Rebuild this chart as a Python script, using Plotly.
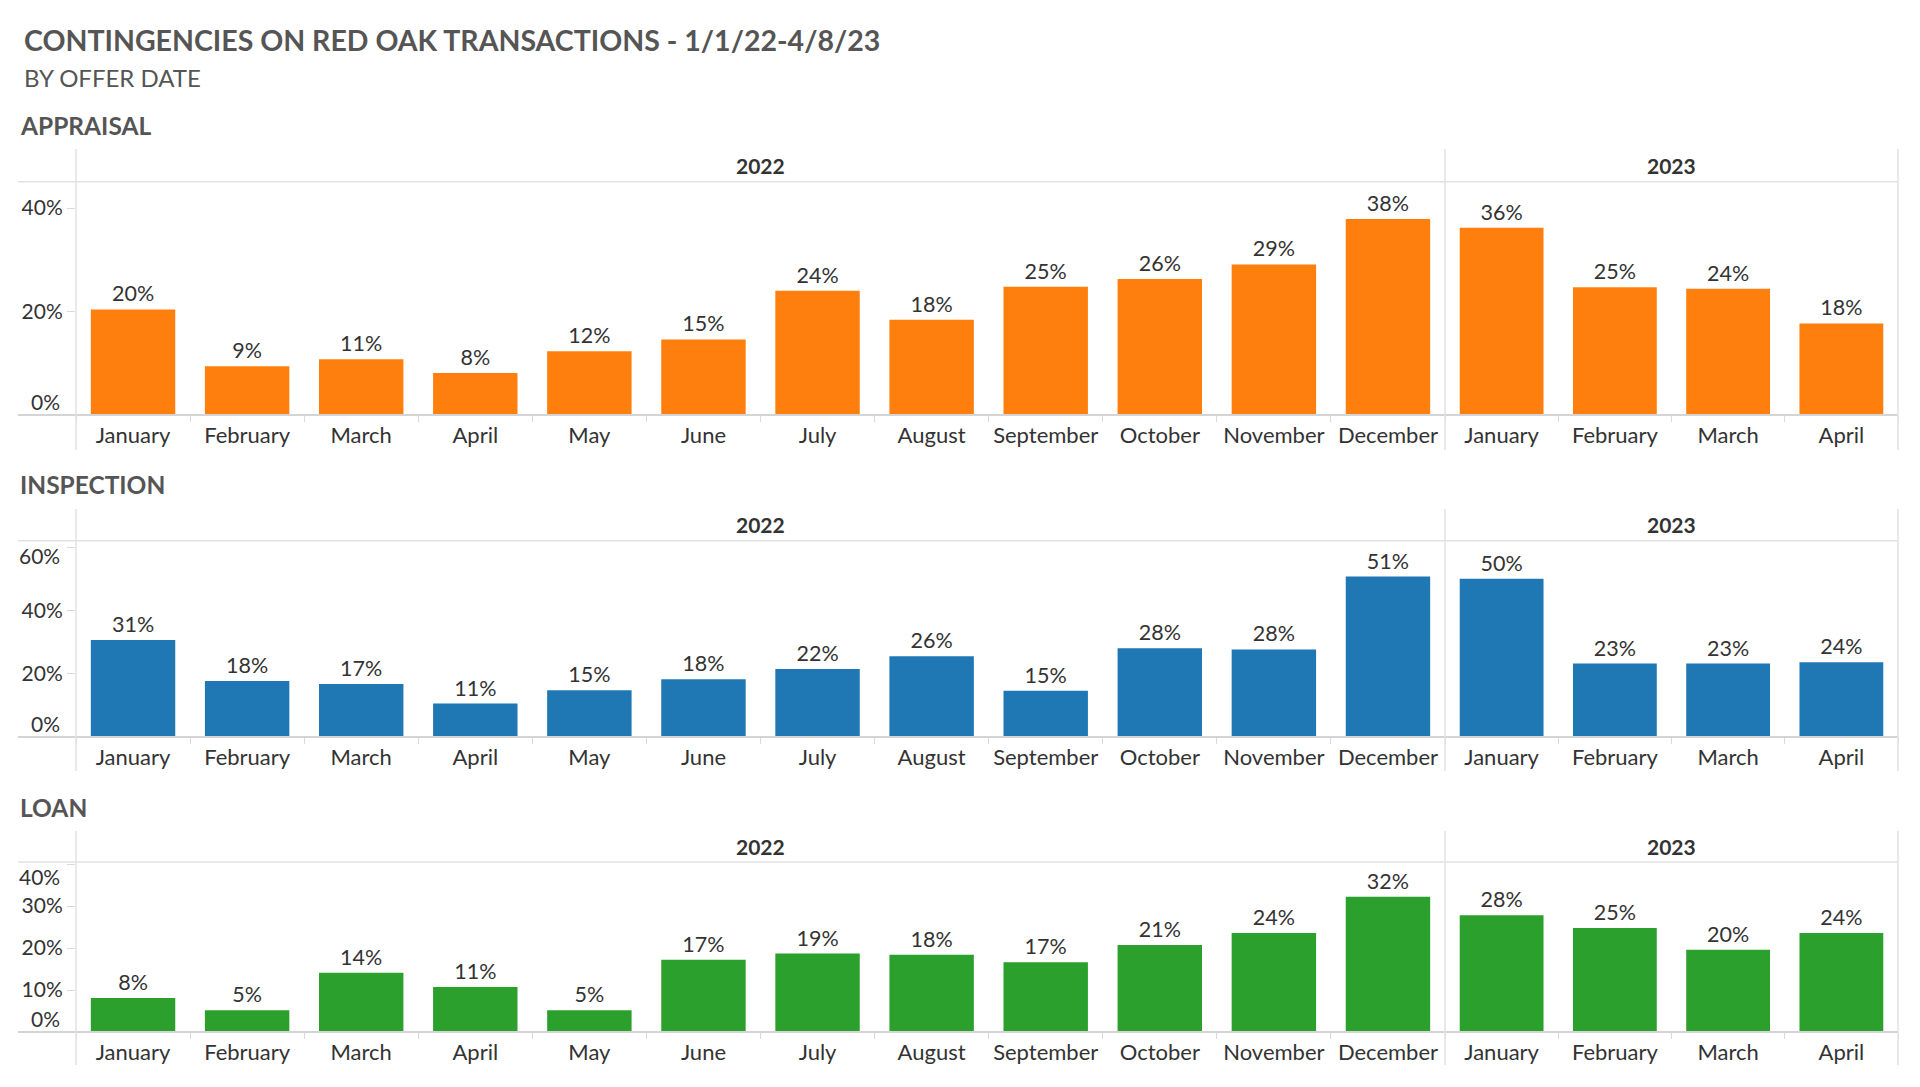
import plotly.graph_objects as go

# ---------------- data ----------------
months_2022 = ["January", "February", "March", "April", "May", "June", "July",
               "August", "September", "October", "November", "December"]
months_2023 = ["January", "February", "March", "April"]

appraisal_2022 = [20.4, 9.4, 10.8, 8.1, 12.3, 14.6, 24.0, 18.4, 24.8, 26.3, 29.1, 37.9]
appraisal_2023 = [36.2, 24.7, 24.4, 17.7]

inspection_2022 = [30.8, 17.8, 16.8, 10.6, 14.8, 18.3, 21.6, 25.6, 14.7, 28.2, 27.8, 50.9]
inspection_2023 = [50.2, 23.3, 23.3, 23.7]

loan_2022 = [8.1, 5.2, 14.1, 10.7, 5.2, 17.2, 18.7, 18.4, 16.6, 20.7, 23.6, 32.2]
loan_2023 = [27.8, 24.8, 19.6, 23.6]

years = ["2022", "2023"]
section_names = ["APPRAISAL", "INSPECTION", "LOAN"]
title_text = "CONTINGENCIES ON RED OAK TRANSACTIONS - 1/1/22-4/8/23"
subtitle_text = "BY OFFER DATE"

# ---------------- layout helpers ----------------
W, H = 1920, 1087
FONT = "Lato"


def px_x(x):
    return x / W


def px_y(y):
    return 1 - y / H


X_LEFT, X_DIV, X_RIGHT, X_LINE_START = 76, 1445, 1898, 18
YLABEL_RIGHT = 61
LABEL_HALF = 14.5

rows = [
    dict(name=section_names[0], v22=appraisal_2022, v23=appraisal_2023, color="#ff7f0e",
         title_y=125, head_top=149, head_line=181.7, axis=415, bottom=450,
         yrange=[0, 45.1], dtick=20),
    dict(name=section_names[1], v22=inspection_2022, v23=inspection_2023, color="#1f77b4",
         title_y=485, head_top=509, head_line=540.7, axis=737, bottom=771,
         yrange=[0, 62.3], dtick=20),
    dict(name=section_names[2], v22=loan_2022, v23=loan_2023, color="#2ca02c",
         title_y=807, head_top=831, head_line=862, axis=1032, bottom=1065,
         yrange=[0, 40.5], dtick=10),
]

fig = go.Figure()
layout_axes = {}
shapes = []
annotations = []

LINE_COL = "#e2e2e2"
AXIS_COL = "#d4d4d4"
TEXT_COL = "#333333"
TICK_FONT = dict(family=FONT, size=21, color=TEXT_COL)

for r, row in enumerate(rows):
    # y ticks derived from the axis range
    tickvals = list(range(0, int(row["yrange"][1]) + 1, row["dtick"]))
    px_per_unit = (row["axis"] - row["head_line"]) / (row["yrange"][1] - row["yrange"][0])
    top_dist = (row["yrange"][1] - tickvals[-1]) * px_per_unit
    top_fits = top_dist > 11
    ticktext = []
    for k, v in enumerate(tickvals):
        if k == 0 or (k == len(tickvals) - 1 and not top_fits):
            ticktext.append("")
        else:
            ticktext.append(f"{v}%")

    parts = [(months_2022, row["v22"], [px_x(X_LEFT), px_x(X_DIV)]),
             (months_2023, row["v23"], [px_x(X_DIV), px_x(X_RIGHT)])]
    for c, (months, vals, xdom) in enumerate(parts):
        i = r * 2 + c + 1
        fig.add_trace(go.Bar(
            x=months, y=vals,
            xaxis=f"x{i}", yaxis=f"y{i}",
            marker=dict(color=row["color"], line=dict(width=0)),
            texttemplate="%{y:.0f}%", textposition="outside",
            textfont=dict(family=FONT, size=21.5, color=TEXT_COL),
            constraintext="none", cliponaxis=False,
            hoverinfo="skip", showlegend=False,
        ))
        layout_axes[f"xaxis{i}"] = dict(
            domain=xdom, anchor=f"y{i}", type="category",
            categoryorder="array", categoryarray=months,
            ticks="outside", tickson="boundaries", ticklen=6, tickcolor="#d9d9d9",
            ticklabelstandoff=5,
            showgrid=False, showline=False, zeroline=False,
            tickangle=0, automargin=False,
            tickfont=dict(family=FONT, size=22, color=TEXT_COL),
            fixedrange=True,
        )
        layout_axes[f"yaxis{i}"] = dict(
            domain=[px_y(row["axis"]), px_y(row["head_line"])],
            anchor=f"x{i}", range=row["yrange"],
            tickmode="array", tickvals=tickvals, ticktext=ticktext,
            showgrid=False, zeroline=False, showline=False,
            ticks="outside" if c == 0 else "", ticklen=8, tickcolor="#d9d9d9",
            showticklabels=(c == 0), automargin=False,
            tickfont=TICK_FONT,
            fixedrange=True,
        )
        # year header
        annotations.append(dict(
            text=f"<b>{years[c]}</b>", xref="paper", yref="paper",
            x=(xdom[0] + xdom[1]) / 2, y=px_y((row["head_top"] + row["head_line"]) / 2),
            xanchor="center", yanchor="middle", showarrow=False,
            font=dict(family=FONT, size=21, color=TEXT_COL),
        ))

    # edge tick labels nudged inside the pane (as the original tool does)
    yref = f"y{r * 2 + 1}"
    annotations.append(dict(
        text=f"{tickvals[0]}%", xref="paper", yref=yref,
        x=px_x(YLABEL_RIGHT), y=tickvals[0], xanchor="right", yanchor="bottom",
        showarrow=False, borderpad=0, font=TICK_FONT,
    ))
    if not top_fits:
        annotations.append(dict(
            text=f"{tickvals[-1]}%", xref="paper", yref=yref,
            x=px_x(YLABEL_RIGHT), y=tickvals[-1], xanchor="right", yanchor="middle",
            yshift=-(LABEL_HALF - top_dist),
            showarrow=False, borderpad=0, font=TICK_FONT,
        ))

    # section title
    annotations.append(dict(
        text=f"<b>{row['name']}</b>", xref="paper", yref="paper",
        x=px_x(18), y=px_y(row["title_y"]), xanchor="left", yanchor="middle",
        showarrow=False, font=dict(family=FONT, size=24.5, color="#555555"),
    ))

    # frame lines
    shapes.append(dict(type="line", xref="paper", yref="paper",
                       x0=px_x(X_LINE_START), x1=px_x(X_RIGHT),
                       y0=px_y(row["head_line"]), y1=px_y(row["head_line"]),
                       line=dict(color=LINE_COL, width=1.5)))
    shapes.append(dict(type="line", xref="paper", yref="paper",
                       x0=px_x(X_LINE_START), x1=px_x(X_RIGHT),
                       y0=px_y(row["axis"]), y1=px_y(row["axis"]),
                       line=dict(color=AXIS_COL, width=2)))
    for xv in (X_LEFT, X_DIV, X_RIGHT):
        shapes.append(dict(type="line", xref="paper", yref="paper",
                           x0=px_x(xv), x1=px_x(xv),
                           y0=px_y(row["head_top"]), y1=px_y(row["bottom"]),
                           line=dict(color=LINE_COL, width=1.5)))

# main titles
annotations.append(dict(
    text=f"<b>{title_text}</b>", xref="paper", yref="paper",
    x=px_x(22), y=px_y(40), xanchor="left", yanchor="middle", showarrow=False,
    font=dict(family=FONT, size=28.5, color="#555555"),
))
annotations.append(dict(
    text=subtitle_text, xref="paper", yref="paper",
    x=px_x(22), y=px_y(77), xanchor="left", yanchor="middle", showarrow=False,
    font=dict(family=FONT, size=24, color="#555555"),
))

fig.update_layout(
    template="none",
    width=W, height=H, autosize=False,
    margin=dict(l=0, r=0, t=0, b=0, pad=0),
    paper_bgcolor="white", plot_bgcolor="white",
    bargap=0.26,
    shapes=shapes, annotations=annotations,
    font=dict(family=FONT, color=TEXT_COL),
    **layout_axes,
)

fig.write_html(
    "out.html",
    config={"displayModeBar": False},
    post_script="document.body.style.margin='0px';document.body.style.overflow='hidden';",
)
